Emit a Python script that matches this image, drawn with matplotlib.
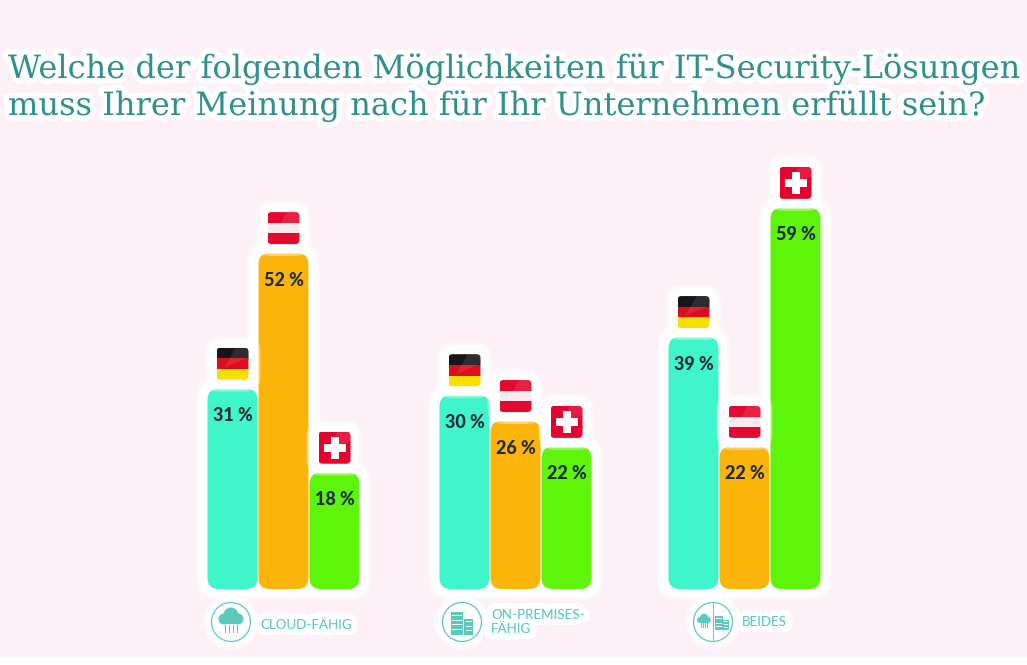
from matplotlib import pyplot as plt
from matplotlib.patches import Circle, FancyBboxPatch, Polygon, Rectangle
import matplotlib.patheffects as pe

# values (percent), one list per group
groups = ['CLOUD-FÄHIG', 'ON-PREMISES-\nFÄHIG', 'BEIDES']
cloud_values = [31, 52, 18]
premises_values = [30, 26, 22]
both_values = [39, 22, 59]
countries = ['de', 'at', 'ch']
title_lines = ['Welche der folgenden Möglichkeiten für IT-Security-Lösungen',
               'muss Ihrer Meinung nach für Ihr Unternehmen erfüllt sein?']

W, H = 1027, 665
BASE_Y = 589
PX_PER_PCT = 6.46
BAR_W = 51
BG = '#fdf0f6'
TEAL = '#5cc9be'
INK = '#1f2a3c'
bar_colors = ['#3ff5cb', '#fbb40a', '#5ff50a']
group_left = [207, 439, 668]
icon_x = [231, 462, 713]
label_x = [260, 491, 742]


def soft_box(ax, x, y, w, h, radius, aspect, color='white', z=1):
    # white glow round a box, the reference has it on every element
    for pad, alpha in [(12, 0.35), (10, 0.6), (8, 1.0)]:
        ax.add_patch(FancyBboxPatch((x, y), w, h, mutation_aspect=aspect,
                                    boxstyle=f'round,pad={pad},rounding_size={radius + pad}',
                                    fc=color, ec='none', alpha=alpha, zorder=z))


def draw_flag(ax, country, x, y, size=32):
    """x, y = top left corner in pixels"""
    soft_box(ax, x, y, size, size, 4, 1, z=2)
    clip = FancyBboxPatch((x, y), size, size, boxstyle='round,pad=0,rounding_size=4',
                          fc='none', ec='none', zorder=4)
    ax.add_patch(clip)
    third = size / 3
    if country == 'ch':
        stripes = ['#e4032e'] * 3
    elif country == 'de':
        stripes = ['#17151a', '#dc0d1c', '#f6e000']
    else:
        stripes = ['#e5082f', '#fbe9ef', '#e5082f']
    for i, c in enumerate(stripes):
        r = Rectangle((x, y + i * third), size, third + 0.5, fc=c, ec='none', zorder=4)
        ax.add_patch(r)
        r.set_clip_path(clip)
    if country == 'ch':
        cx, cy = x + size / 2, y + size / 2
        ax.add_patch(Rectangle((cx - 4, cy - 11), 8, 22, fc='white', ec='none', zorder=5))
        ax.add_patch(Rectangle((cx - 11, cy - 4), 22, 8, fc='white', ec='none', zorder=5))
    # glare in the top right corner
    gl = Polygon([(x + size, y), (x + size * 0.6, y), (x + size * 0.25, y + size * 0.62),
                  (x + size, y + size * 0.3)], fc='white', ec='none', alpha=0.1, zorder=6)
    ax.add_patch(gl)
    gl.set_clip_path(clip)


def draw_cloud(ax, cx, cy, scale=1.0):
    for dx, dy, r in [(-7, 0, 5.5), (0, -4, 7.5), (7, 0, 5.5)]:
        ax.add_patch(Circle((cx + dx * scale, cy + dy * scale), r * scale, fc=TEAL, ec='none', zorder=5))
    ax.add_patch(Rectangle((cx - 7 * scale, cy - 1 * scale), 14 * scale, 6 * scale, fc=TEAL, ec='none', zorder=5))
    for dx in (-6, -2, 2, 6):
        ax.plot([cx + dx * scale, cx + dx * scale], [cy + 6 * scale, cy + 13 * scale],
                color=TEAL, lw=0.7, zorder=5)


def draw_building(ax, cx, cy, scale=1.0):
    ax.add_patch(Rectangle((cx - 11 * scale, cy - 10 * scale), 12 * scale, 23 * scale, fc=TEAL, ec='none', zorder=5))
    ax.add_patch(Rectangle((cx + 2 * scale, cy - 3 * scale), 9 * scale, 16 * scale, fc=TEAL, ec='none', zorder=5))
    for k in range(4):
        ax.add_patch(Rectangle((cx - 10 * scale, cy + (-7 + k * 4.5) * scale), 10 * scale, 1.3 * scale,
                               fc='white', ec='none', zorder=6))
    for k in range(3):
        ax.add_patch(Rectangle((cx + 3.5 * scale, cy + (-1 + k * 4.5) * scale), 6 * scale, 1.2 * scale,
                               fc='white', ec='none', zorder=6))


def main():
    fig = plt.figure(figsize=(W / 100, H / 100), dpi=100, facecolor=BG)

    # overlay in pixel coordinates for everything that is not a bar
    px = fig.add_axes([0, 0, 1, 1])
    px.set_xlim(0, W)
    px.set_ylim(H, 0)
    px.axis('off')
    px.add_patch(Rectangle((0, 657), W, 8, fc='white', ec='none', zorder=0))

    # bars get their own axes: x in pixels, y in percent
    ax = fig.add_axes([0, 0, 1, 1])
    ax.set_xlim(0, W)
    ax.set_ylim(-(H - BASE_Y) / PX_PER_PCT, BASE_Y / PX_PER_PCT)
    ax.axis('off')
    ax.patch.set_alpha(0)

    aspect = 1 / PX_PER_PCT
    for left, values in zip(group_left, [cloud_values, premises_values, both_values]):
        for i, v in enumerate(values):
            x = left + i * BAR_W
            soft_box(ax, x, 0, BAR_W, v, 11, aspect, z=1)
    for left, values in zip(group_left, [cloud_values, premises_values, both_values]):
        for i, v in enumerate(values):
            x = left + i * BAR_W
            ax.add_patch(FancyBboxPatch((x + 0.5, 0), BAR_W - 1, v, mutation_aspect=aspect,
                                        boxstyle='round,pad=0,rounding_size=11',
                                        fc=bar_colors[i], ec='none', zorder=3))
            ax.text(x + BAR_W / 2 + 0.5, v - 27 / PX_PER_PCT, f'{v} %', ha='center', va='center',
                    fontsize=13, fontweight='black', family='Lato', color=INK, zorder=4)
            top_px = BASE_Y - v * PX_PER_PCT
            draw_flag(px, countries[i], x + 9.5, top_px - 41)

    px.set_zorder(ax.get_zorder() + 1)
    px.patch.set_alpha(0)

    # category icons and labels
    for k, name in enumerate(groups):
        cx, cy = icon_x[k], 622
        px.add_patch(Circle((cx, cy), 28, fc='white', ec='none', alpha=0.6, zorder=2))
        px.add_patch(Circle((cx, cy), 25, fc='white', ec='none', zorder=2))
        px.add_patch(Circle((cx, cy), 19.5, fc='white', ec=TEAL, lw=0.9, zorder=3))
        if k == 0:
            draw_cloud(px, cx, cy - 3)
        elif k == 1:
            draw_building(px, cx, cy)
        else:
            px.plot([cx, cx], [cy - 19, cy + 19], color=TEAL, lw=0.7, zorder=4)
            draw_cloud(px, cx - 9, cy - 2, 0.55)
            draw_building(px, cx + 9, cy, 0.6)
        label_y = 625 if k == 0 else 622
        # halo as a separate text so the second line does not cover the first
        px.text(label_x[k], label_y, name, ha='left', va='center', fontsize=9.6,
                family='Lato', color='white', linespacing=1.25, zorder=4,
                path_effects=[pe.withStroke(linewidth=9, foreground='white')])
        px.text(label_x[k], label_y, name, ha='left', va='center', fontsize=9.6,
                family='Lato', fontweight='medium', color=TEAL, linespacing=1.25, zorder=5)

    for line, y in zip(title_lines, [69, 106]):
        px.text(8, y, line, ha='left', va='center', fontsize=23.1, family='DejaVu Serif',
                color='#2f908e', zorder=7,
                path_effects=[pe.withStroke(linewidth=8, foreground='white')])

    fig.savefig('out.png', dpi=100, facecolor=BG)


if __name__ == '__main__':
    main()
